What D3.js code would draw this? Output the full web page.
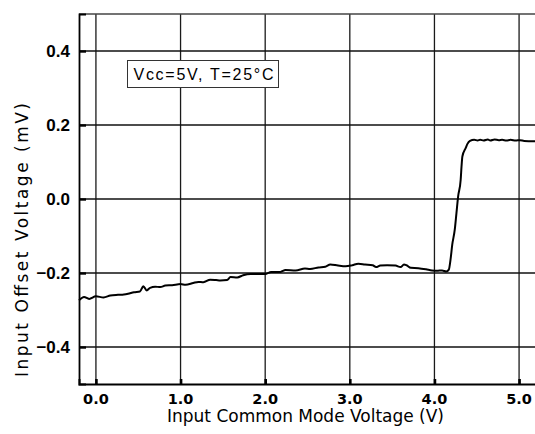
<!DOCTYPE html>
<html>
<head>
<meta charset="utf-8">
<script src="https://cdn.jsdelivr.net/npm/d3@7"></script>
<style>
	body { margin: 0; background: #fff; }
	svg { display: block; }
</style>
</head>
<body>
<svg id="chart" width="535" height="434"></svg>
<script>

var voltage = [-0.2,-0.14,-0.08,0,0.09,0.17,0.26,0.33,0.38,0.45,0.52,0.56,0.6,0.64,0.7,0.76,0.82,0.9,1.0,1.06,1.15,1.21,1.27,1.35,1.42,1.47,1.55,1.59,1.67,1.74,1.83,2.0,2.07,2.18,2.24,2.36,2.47,2.53,2.63,2.71,2.77,2.86,2.95,3.03,3.1,3.18,3.27,3.31,3.36,3.44,3.54,3.6,3.64,3.67,3.72,3.81,3.9,3.97,4.03,4.09,4.14,4.17,4.19,4.21,4.24,4.26,4.28,4.31,4.32,4.33,4.37,4.39,4.42,4.47,4.51,4.54,4.58,4.63,4.66,4.71,4.76,4.8,4.85,4.9,4.96,5.01,5.06,5.2];

var offset = [-0.274,-0.265,-0.27,-0.263,-0.266,-0.261,-0.259,-0.258,-0.256,-0.252,-0.25,-0.236,-0.247,-0.24,-0.237,-0.238,-0.234,-0.233,-0.23,-0.232,-0.227,-0.224,-0.225,-0.218,-0.219,-0.22,-0.219,-0.211,-0.212,-0.206,-0.203,-0.203,-0.197,-0.197,-0.192,-0.193,-0.188,-0.189,-0.185,-0.183,-0.177,-0.18,-0.182,-0.179,-0.175,-0.177,-0.179,-0.184,-0.18,-0.179,-0.18,-0.184,-0.177,-0.179,-0.186,-0.187,-0.19,-0.193,-0.194,-0.193,-0.196,-0.191,-0.164,-0.124,-0.083,-0.038,0.007,0.052,0.088,0.115,0.138,0.149,0.157,0.16,0.158,0.16,0.158,0.161,0.158,0.161,0.159,0.16,0.158,0.16,0.158,0.159,0.157,0.156];

var xTicks = [0, 1, 2, 3, 4, 5];
var yTicks = [-0.4, -0.2, 0, 0.2, 0.4];
var note = "Vcc=5V, T=25°C";
var xTitle = "Input Common Mode Voltage (V)";
var yTitle = "Input Offset Voltage (mV)";

var svg = d3.select("#chart");

var x = d3.scaleLinear().domain([-0.2, 5.2]).range([79, 536]),
	y = d3.scaleLinear().domain([-0.5, 0.5]).range([384, 14]);

// grid
svg.append("g").selectAll("line")
	.data(xTicks)
	.enter().append("line")
	.attr("x1", function(d) { return x(d); })
	.attr("x2", function(d) { return x(d); })
	.attr("y1", y(0.5)).attr("y2", y(-0.5))
	.attr("stroke", "#1a1a1a").attr("stroke-width", 1.3);

svg.append("g").selectAll("line")
	.data(yTicks)
	.enter().append("line")
	.attr("x1", x(-0.2)).attr("x2", x(5.2))
	.attr("y1", function(d) { return y(d); })
	.attr("y2", function(d) { return y(d); })
	.attr("stroke", "#111").attr("stroke-width", 1.3);

// frame
svg.append("line")
	.attr("x1", x(-0.2)).attr("x2", x(5.2))
	.attr("y1", y(0.5)).attr("y2", y(0.5))
	.attr("stroke", "#444").attr("stroke-width", 1.3);

var yAxis = svg.append("g")
	.attr("transform", "translate(" + x(-0.2) + ",0)")
	.call(d3.axisRight(y).tickValues(yTicks).tickSize(7).tickFormat(""));
yAxis.select(".domain").attr("stroke", "#000").attr("stroke-width", 1.8);
yAxis.selectAll(".tick line").attr("stroke", "#000").attr("stroke-width", 2.4);

var xAxis = svg.append("g")
	.attr("transform", "translate(0," + y(-0.5) + ")")
	.call(d3.axisTop(x).tickValues(xTicks).tickSize(5).tickFormat(""));
xAxis.select(".domain").attr("stroke", "#000").attr("stroke-width", 2);
xAxis.selectAll(".tick line").attr("stroke", "#000").attr("stroke-width", 2.6);

// tick labels
svg.append("g").selectAll("text")
	.data(yTicks)
	.enter().append("text")
	.attr("x", 70)
	.attr("y", function(d) { return y(d) + 6; })
	.attr("text-anchor", "end")
	.style("font", "bold 17px 'Liberation Sans', Arial, sans-serif")
	.text(function(d) { return d3.format(".1f")(d); });

svg.append("g").selectAll("text")
	.data(xTicks)
	.enter().append("text")
	.attr("x", function(d) { return x(d); })
	.attr("y", 404)
	.attr("text-anchor", "middle")
	.style("font", "bold 14.5px 'DejaVu Sans', sans-serif")
	.text(function(d) { return d3.format(".1f")(d); });

// titles
svg.append("text")
	.attr("x", 305.5)
	.attr("y", 422)
	.attr("text-anchor", "middle")
	.attr("textLength", 277)
	.attr("lengthAdjust", "spacing")
	.style("font", "17px 'DejaVu Sans', sans-serif")
	.text(xTitle);

svg.append("text")
	.attr("transform", "translate(28,240) rotate(-90)")
	.attr("text-anchor", "middle")
	.attr("textLength", 274)
	.attr("lengthAdjust", "spacing")
	.style("font", "17px 'DejaVu Sans', sans-serif")
	.text(yTitle);

// note box
svg.append("rect")
	.attr("x", 127.5).attr("y", 60.5)
	.attr("width", 151).attr("height", 27)
	.attr("fill", "#fff")
	.attr("stroke", "#333").attr("stroke-width", 1);

svg.append("text")
	.attr("x", 133.5)
	.attr("y", 80)
	.attr("textLength", 140)
	.attr("lengthAdjust", "spacing")
	.style("font", "16px 'Liberation Sans', Arial, sans-serif")
	.text(note);

// curve
var line = d3.line()
	.x(function(d, i) { return x(voltage[i]); })
	.y(function(d) { return y(d); })
	.curve(d3.curveMonotoneX);

svg.append("path")
	.datum(offset)
	.attr("d", line)
	.attr("fill", "none")
	.attr("stroke", "#000")
	.attr("stroke-width", 2)
	.attr("stroke-linejoin", "round");

</script>
</body>
</html>
